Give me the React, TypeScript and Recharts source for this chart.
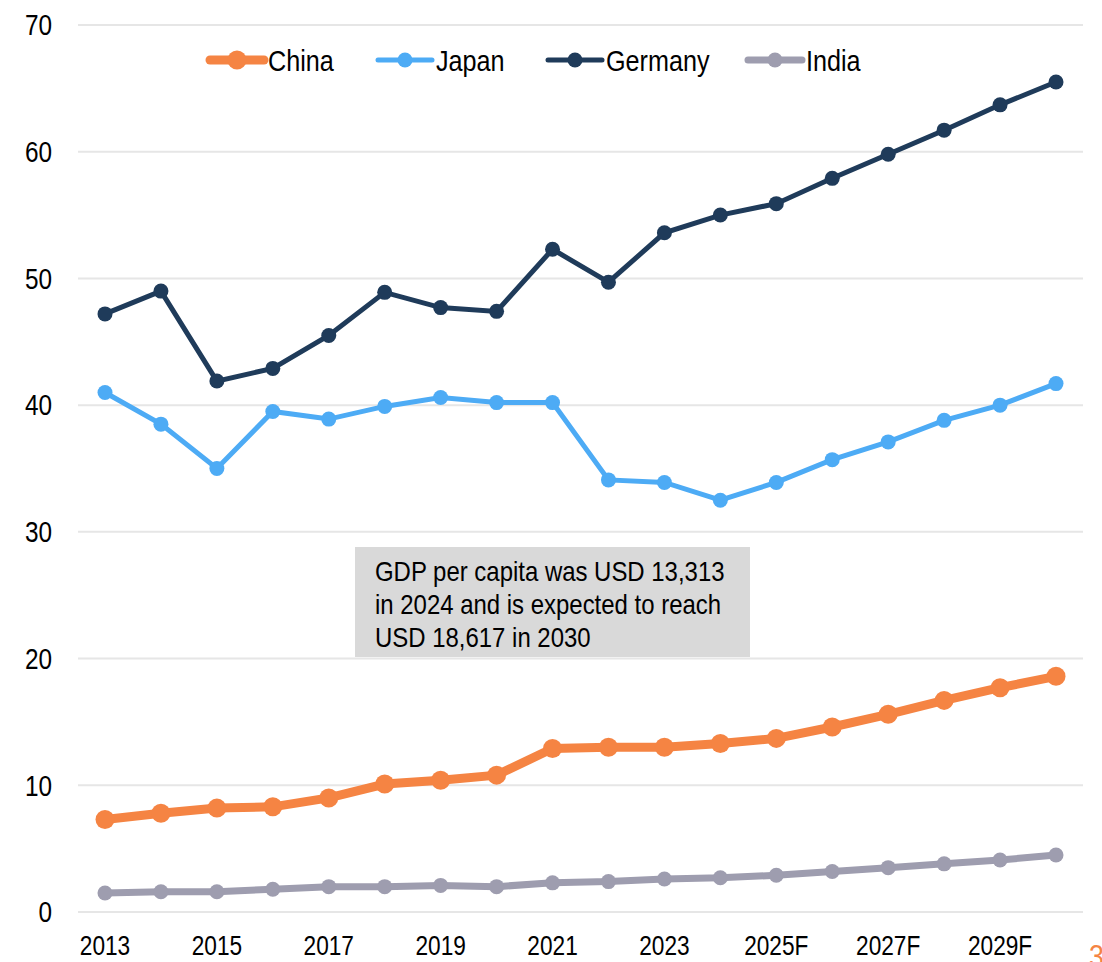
import { LineChart, Line, XAxis, YAxis, CartesianGrid } from 'recharts';

const years = ['2013', '2014', '2015', '2016', '2017', '2018', '2019', '2020', '2021', '2022', '2023', '2024', '2025F', '2026F', '2027F', '2028F', '2029F', '2030F'];
const china = [7.3, 7.8, 8.2, 8.3, 9.0, 10.1, 10.4, 10.8, 12.9, 13.0, 13.0, 13.3, 13.7, 14.6, 15.6, 16.7, 17.7, 18.6];
const japan = [41.0, 38.5, 35.0, 39.5, 38.9, 39.9, 40.6, 40.2, 40.2, 34.1, 33.9, 32.5, 33.9, 35.7, 37.1, 38.8, 40.0, 41.7];
const germany = [47.2, 49.0, 41.9, 42.9, 45.5, 48.9, 47.7, 47.4, 52.3, 49.7, 53.6, 55.0, 55.9, 57.9, 59.8, 61.7, 63.7, 65.5];
const india = [1.5, 1.6, 1.6, 1.8, 2.0, 2.0, 2.1, 2.0, 2.3, 2.4, 2.6, 2.7, 2.9, 3.2, 3.5, 3.8, 4.1, 4.5];
const yTicks = [0, 10, 20, 30, 40, 50, 60, 70];
const note = ['GDP per capita was USD 13,313', 'in 2024 and is expected to reach', 'USD 18,617 in 2030'];

const data = years.map((year, i) => ({
  year,
  China: china[i],
  Japan: japan[i],
  Germany: germany[i],
  India: india[i],
}));

// drawn in this order, so China sits on top
const series = [
  { key: 'India', color: '#9E9DAF', width: 7, r: 7.5 },
  { key: 'Germany', color: '#1F3B5A', width: 5, r: 7.5 },
  { key: 'Japan', color: '#4DABF5', width: 5, r: 7.5 },
  { key: 'China', color: '#F58443', width: 9, r: 9.5 },
];
const legendOrder = ['China', 'Japan', 'Germany', 'India'];
const legendLeft = [207, 375, 545, 745];

// no narrow font installed, so squeeze Liberation Sans to look like Arial Narrow
const font = "'Liberation Sans', Arial, sans-serif";
const squeeze = 0.84;

const XTick = (props: any) => {
  const { x, y, payload } = props;
  return (
    <text transform={`translate(${x},${y}) scale(${squeeze},1)`} textAnchor="middle" dy="0.71em" fontSize={27} fontFamily={font} fill="#000">
      {payload.value}
    </text>
  );
};

const YTick = (props: any) => {
  const { x, y, payload } = props;
  return (
    <text transform={`translate(${x},${y}) scale(${squeeze},1)`} textAnchor="end" dy="0.355em" fontSize={29} fontFamily={font} fill="#000">
      {payload.value}
    </text>
  );
};

export default function App() {
  return (
    <div style={{ position: 'absolute', left: 0, top: 0, width: 1102, height: 962, fontFamily: font, background: '#fff', overflow: 'hidden' }}>
      <LineChart width={1102} height={962} data={data} margin={{ top: 25, right: 19, bottom: 0, left: 0 }}>
        <CartesianGrid vertical={false} stroke="#E6E6E6" strokeWidth={2} />
        <XAxis
          dataKey="year"
          interval={1}
          height={50}
          axisLine={false}
          tickLine={false}
          tickSize={0}
          tickMargin={24}
          padding={{ left: 27, right: 27 }}
          tick={<XTick />}
        />
        <YAxis
          width={78}
          domain={[0, 70]}
          ticks={yTicks}
          axisLine={false}
          tickLine={false}
          tickSize={0}
          tickMargin={26}
          tick={<YTick />}
        />
        {series.map((s) => (
          <Line
            key={s.key}
            dataKey={s.key}
            stroke={s.color}
            strokeWidth={s.width}
            dot={{ r: s.r, fill: s.color, stroke: 'none' }}
            activeDot={false}
            isAnimationActive={false}
          />
        ))}
      </LineChart>

      <svg style={{ position: 'absolute', left: 0, top: 0 }} width={1102} height={100}>
        {legendOrder.map((name, i) => {
          const s = series.find((x) => x.key === name)!;
          const x0 = legendLeft[i];
          return (
            <g key={name}>
              <line x1={x0 + 3} y1={60} x2={x0 + 57} y2={60} stroke={s.color} strokeWidth={s.width} strokeLinecap="round" />
              <circle cx={x0 + 30} cy={60} r={s.r} fill={s.color} />
              <text transform={`translate(${x0 + 61},60) scale(${squeeze},1)`} dy="0.355em" fontSize={30} fontFamily={font} fill="#000">
                {name}
              </text>
            </g>
          );
        })}
      </svg>

      <div style={{ position: 'absolute', left: 355, top: 547, width: 395, height: 110, background: '#D9D9D9' }}>
        <div style={{ position: 'absolute', left: 20, top: 8, transform: 'scaleX(0.855)', transformOrigin: 'left top', whiteSpace: 'nowrap', fontSize: 28, lineHeight: '33px', color: '#000' }}>
          {note.map((line) => (
            <div key={line}>{line}</div>
          ))}
        </div>
      </div>

      <div style={{ position: 'absolute', left: 1089, top: 938, fontSize: 32, lineHeight: '36px', color: '#F58443', transform: `scaleX(${squeeze})`, transformOrigin: 'left top' }}>3</div>
    </div>
  );
}
